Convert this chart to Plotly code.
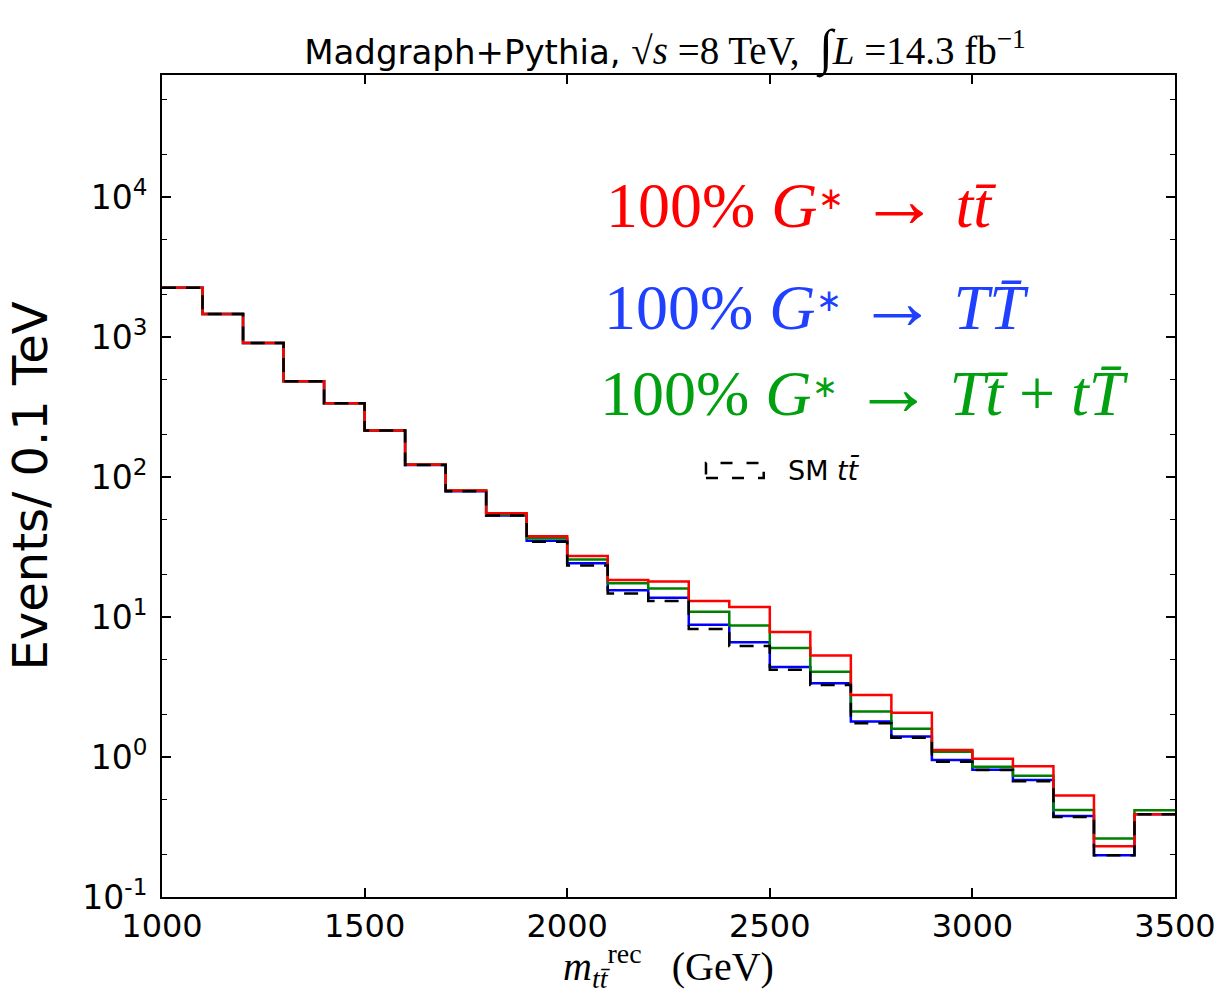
import plotly.graph_objects as go

# Bin left edges (GeV) and right end
bin_edges = [1000, 1100, 1200, 1300, 1400, 1500, 1600, 1700, 1800, 1900, 2000, 2100, 2200,
             2300, 2400, 2500, 2600, 2700, 2800, 2900, 3000, 3100, 3200, 3300, 3400, 3500]

# Events / 0.1 TeV
g_tt = [2250, 1460, 906, 483, 336, 215, 123, 80, 55, 37.7, 27.3, 18.4, 17.9, 13.0, 11.8,
        7.8, 5.3, 2.77, 2.07, 1.12, 0.97, 0.86, 0.53, 0.23, 0.39]
g_TtT = [2250, 1460, 906, 483, 336, 215, 123, 80, 54, 36.5, 25.7, 17.4, 16.0, 10.9, 8.7,
         6.0, 4.07, 2.11, 1.59, 1.09, 0.85, 0.735, 0.418, 0.262, 0.416]
g_TT = [2250, 1460, 906, 483, 336, 215, 122, 79, 53, 35.0, 24.2, 15.5, 13.7, 8.8, 6.6,
        4.4, 3.36, 1.79, 1.40, 0.95, 0.81, 0.685, 0.379, 0.199, 0.39]
sm_tt = [2250, 1460, 906, 483, 336, 215, 122, 79, 53, 34.5, 23.3, 14.7, 13.0, 8.2, 6.2,
         4.2, 3.27, 1.74, 1.37, 0.925, 0.807, 0.67, 0.373, 0.199, 0.39]

x_tick_vals = [1000, 1500, 2000, 2500, 3000, 3500]
y_tick_vals = [0.1, 1, 10, 100, 1000, 10000]
y_tick_text = ["10<sup>-1</sup>", "10<sup>0</sup>", "10<sup>1</sup>", "10<sup>2</sup>",
               "10<sup>3</sup>", "10<sup>4</sup>"]


def step(vals):
    return bin_edges, list(vals) + [vals[-1]]


fig = go.Figure()
for vals, color, name, dash in [
    (g_TT, "#0000ff", "G* → TT̄", "solid"),
    (g_TtT, "#008000", "G* → Tt̄ + tT̄", "solid"),
    (g_tt, "#ff0000", "G* → tt̄", "solid"),
    (sm_tt, "#000000", "SM tt̄", "14px,10px"),
]:
    xs, ys = step(vals)
    fig.add_trace(go.Scatter(x=xs, y=ys, mode="lines", line_shape="hv",
                             line=dict(color=color, width=2.5, dash=dash),
                             name=name, showlegend=False))

serif = "Liberation Serif"
ann_font = 64
arrow = "<span style='font-size:80px'>→</span>"
gstar = "<i>G</i><span style='font-size:44px'><sup>∗</sup></span>"
fig.add_annotation(xref="paper", yref="paper", x=0.436, y=0.848, xanchor="left", yanchor="middle",
                   text=f"100% {gstar} {arrow} <i>t</i><i>t̄</i>", showarrow=False,
                   font=dict(family=serif, size=ann_font, color="#ff0000"))
fig.add_annotation(xref="paper", yref="paper", x=0.434, y=0.724, xanchor="left", yanchor="middle",
                   text=f"100% {gstar} {arrow} <i>T</i><i>T̄</i>", showarrow=False,
                   font=dict(family=serif, size=ann_font, color="#2040ff"))
fig.add_annotation(xref="paper", yref="paper", x=0.430, y=0.619, xanchor="left", yanchor="middle",
                   text=f"100% {gstar} {arrow} <i>T</i><i>t̄</i> + <i>t</i><i>T̄</i>", showarrow=False,
                   font=dict(family=serif, size=ann_font, color="#00a010"))

# Legend entry for SM ttbar: dashed box sample + label
fig.add_shape(type="rect", xref="paper", yref="paper", x0=0.537, x1=0.594, y0=0.5097, y1=0.528,
              line=dict(color="black", width=2.5, dash="12px,14px"), fillcolor="rgba(0,0,0,0)")
fig.add_annotation(xref="paper", yref="paper", x=0.616, y=0.519, xanchor="left", yanchor="middle",
                   text="SM <i>tt̄</i>", showarrow=False,
                   font=dict(family="DejaVu Sans", size=27, color="black"))

fig.update_layout(
    width=1228, height=994,
    margin=dict(l=162, r=51, t=75, b=97),
    paper_bgcolor="white", plot_bgcolor="white",
    font=dict(family="DejaVu Sans", size=32, color="black"),
    showlegend=False,
    title=dict(
        text="Madgraph+Pythia, <span style='font-family:Liberation Serif;font-size:39px'>√<i>s</i> =8 TeV,  "
             "<span style='font-size:50px'>∫</span><i>L</i> =14.3 fb<sup>−1</sup></span>",
        x=0.5415, xanchor="center", y=1 - 64 / 994, yanchor="bottom", yref="container",
        font=dict(size=34, family="DejaVu Sans")),
    xaxis=dict(range=[1000, 3500], tickvals=x_tick_vals, ticks="inside", ticklen=9, tickwidth=1.5,
               tickcolor="black", showline=True, linecolor="black", linewidth=2, mirror="allticks",
               showgrid=False, zeroline=False, tickfont=dict(size=32),
               title=dict(text="<i>m</i><sub><i>tt̄</i></sub><sup>rec</sup>   (GeV)", standoff=6,
                          font=dict(family=serif, size=40))),
    yaxis=dict(type="log", range=[-1, 4.871], tickvals=y_tick_vals, ticktext=y_tick_text,
               ticks="inside", ticklen=9, tickwidth=1.5, tickcolor="black", showline=True,
               linecolor="black", linewidth=2, mirror="allticks", showgrid=False, zeroline=False,
               tickfont=dict(size=33), ticklabelstandoff=6,
               minor=dict(ticks="inside", ticklen=5, tickcolor="black", tickwidth=1, showgrid=False),
               title=dict(text="Events/ 0.1 TeV", standoff=20, font=dict(size=48))),
)

fig.write_html("out.html")
